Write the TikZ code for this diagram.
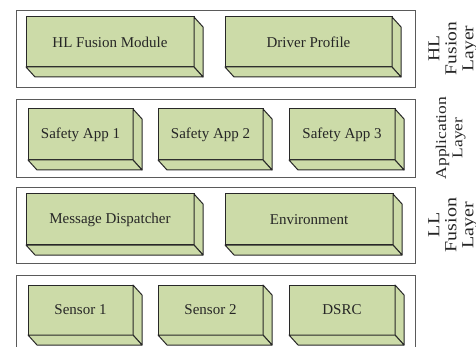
\documentclass[tikz,border=0pt]{standalone}
\usepackage{fontspec}
\setmainfont{Liberation Serif}
\definecolor{cubegreen}{RGB}{204,219,168}
\definecolor{edgegray}{RGB}{40,40,40}
\definecolor{boxgray}{RGB}{90,90,90}
\tikzset{
  layerbox/.style={draw=boxgray, line width=0.9pt, fill=white, inner sep=0pt, outer sep=0pt},
  cubefront/.style={draw=edgegray, line width=1pt, fill=cubegreen, inner sep=0pt, outer sep=0pt,
    font=\fontsize{15}{17}\selectfont, text=black!85},
  cubeface/.style={draw=edgegray, line width=1pt, fill=cubegreen, line join=round},
  layerlabel/.style={inner sep=0pt, text=black!85}
}
\newcommand{\cubesides}[1]{%
  \draw[cubeface] (#1.north east) -- ([shift={(9,10)}]#1.north east) -- ([shift={(9,10)}]#1.south east) -- (#1.south east) -- cycle;
  \draw[cubeface] (#1.south west) -- ([shift={(9,10)}]#1.south west) -- ([shift={(9,10)}]#1.south east) -- (#1.south east) -- cycle;
}
\newcommand{\lbl}[3]{\scalebox{0.85}[1]{\rotatebox{90}{\fontsize{#1}{#2}\selectfont\begin{tabular}{@{}c@{}}#3\end{tabular}}}}
\begin{document}
\begin{tikzpicture}[x=1pt,y=-1pt]
\useasboundingbox (0,0) rectangle (476,347);
\clip (0,0) rectangle (476,347);
% layer boxes
\node[layerbox, minimum width=399, minimum height=77] (L1) at (215.5,48.5) {};
\node[layerbox, minimum width=399, minimum height=78] (L2) at (215.5,138) {};
\node[layerbox, minimum width=399, minimum height=76] (L3) at (215.5,225) {};
\node[layerbox, minimum width=399, minimum height=80] (L4) at (215.5,315) {};
% layer 1
\node[cubefront, minimum width=168, minimum height=50] (hlf) at (110,42) {HL Fusion Module};
\cubesides{hlf}
\node[cubefront, minimum width=167, minimum height=50] (drv) at (308.5,42) {Driver Profile};
\cubesides{drv}
% layer 2
\node[cubefront, minimum width=105, minimum height=51] (app1) at (80.5,134.5) {Safety App 1};
\cubesides{app1}
\node[cubefront, minimum width=105, minimum height=51] (app2) at (210.5,134.5) {Safety App 2};
\cubesides{app2}
\node[cubefront, minimum width=106, minimum height=51] (app3) at (342,134.5) {Safety App 3};
\cubesides{app3}
% layer 3
\node[cubefront, minimum width=168, minimum height=51] (msg) at (110,219.5) {Message Dispatcher};
\cubesides{msg}
\node[cubefront, minimum width=168, minimum height=51] (env) at (309,219.5) {Environment};
\cubesides{env}
% layer 4
\node[cubefront, minimum width=105, minimum height=50] (s1) at (80.5,310) {Sensor 1};
\cubesides{s1}
\node[cubefront, minimum width=105, minimum height=50] (s2) at (210.5,310) {Sensor 2};
\cubesides{s2}
\node[cubefront, minimum width=106, minimum height=50] (dsrc) at (342,310) {DSRC};
\cubesides{dsrc}
% labels
\node[layerlabel] (lab1) at (453,48.5) {\lbl{19.5}{20}{HL\\Fusion\\Layer}};
\node[layerlabel] (lab2) at (451,138) {\lbl{17.5}{19}{Application\\Layer}};
\node[layerlabel] (lab3) at (453,225) {\lbl{20}{20}{LL\\Fusion\\Layer}};
\end{tikzpicture}
\end{document}
